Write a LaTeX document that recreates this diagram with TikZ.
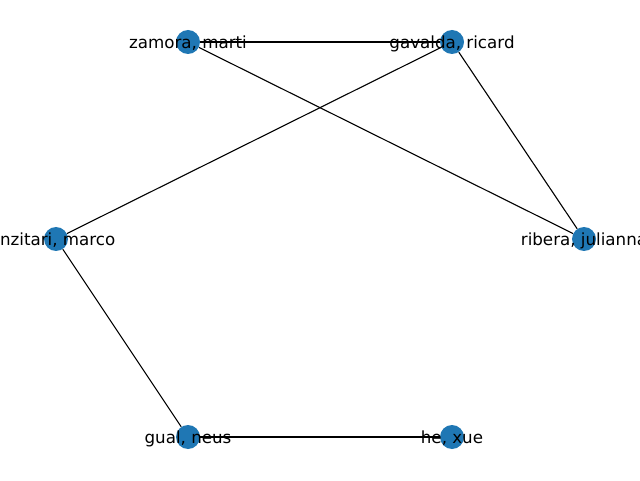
\documentclass[tikz,border=0pt]{standalone}
\usepackage{fontspec}
\setmainfont{DejaVu Sans}
\usetikzlibrary{backgrounds}
\definecolor{nodeblue}{HTML}{1F77B4}

\begin{document}
\begin{tikzpicture}[x=1pt,y=1pt,
        person/.style={circle,fill=nodeblue,minimum size=24pt,inner sep=0pt},
        personlabel/.style={inner sep=0pt,yshift=-1.5pt,font=\fontsize{16.7}{20}\selectfont},
        link/.style={draw=black,line width=1.1pt}]
            \useasboundingbox (0,0) rectangle (640,480);
            \clip (0,0) rectangle (640,480);
            \node[person] (zamora) at (188,438) {};
            \node[person] (gavalda) at (452,438) {};
            \node[person] (marco) at (56,241) {};
            \node[person] (ribera) at (584,241) {};
            \node[person] (gual) at (188,43) {};
            \node[person] (he) at (452,43) {};

            \begin{scope}[on background layer]
                \draw[link] (zamora) -- (gavalda);
                \draw[link] (zamora) -- (ribera);
                \draw[link] (gavalda) -- (marco);
                \draw[link] (gavalda) -- (ribera);
                \draw[link] (marco) -- (gual);
                \draw[link] (gual) -- (he);
            \end{scope}

            \node[personlabel] (zamoralabel) at (zamora) {zamora, marti};
            \node[personlabel] (gavaldalabel) at (gavalda) {gavalda, ricard};
            \node[personlabel,anchor=east] (marcolabel) at (115.5,241) {nzitari, marco};
            \node[personlabel] (riberalabel) at (ribera) {ribera, julianna};
            \node[personlabel] (guallabel) at (gual) {gual, neus};
            \node[personlabel] (helabel) at (he) {he, xue};
        \end{tikzpicture}
\end{document}
